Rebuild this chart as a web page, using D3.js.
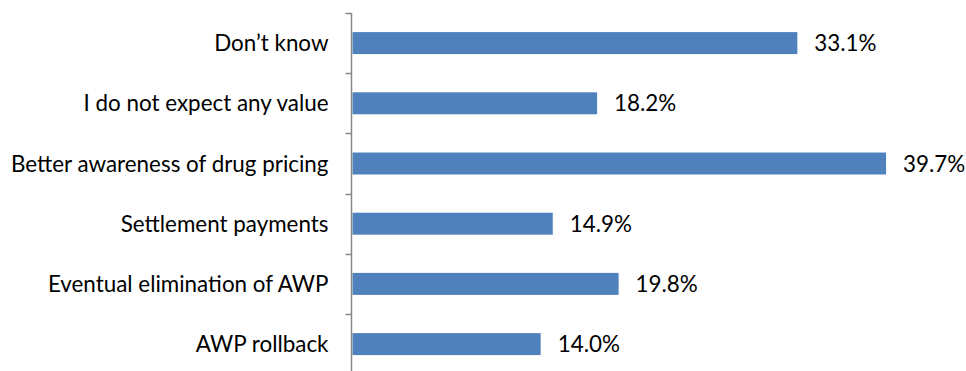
<!DOCTYPE html>
<html>
<head>
<meta charset="utf-8">
<script src="https://cdn.jsdelivr.net/npm/d3@7"></script>
<style>
  html, body { margin: 0; padding: 0; background: #fff; }
  svg text { font-family: Lato, "Open Sans", sans-serif; fill: #000; }
</style>
</head>
<body>
<svg id="chart" width="966" height="371"></svg>
<script>
// Survey responses, listed top to bottom
const categories = [
  "Don\u2019t know",
  "I do not expect any value",
  "Better awareness of drug pricing",
  "Settlement payments",
  "Eventual elimination of AWP",
  "AWP rollback"
];
const values = [33.1, 18.2, 39.7, 14.9, 19.8, 14.0];

const svg = d3.select("#chart");
const axisX = 351.5;
const plotTop = 13, bandH = 60.2;
const fontSize = 22.4;

const x = d3.scaleLinear().domain([0, 45]).range([axisX + 1, axisX + 1 + 45 * 13.44]);
const y = d3.scaleBand()
  .domain(categories)
  .range([plotTop, plotTop + bandH * categories.length])
  .paddingInner(0.635)
  .paddingOuter(0.3175);

// bars
svg.append("g").selectAll("rect")
  .data(categories)
  .join("rect")
  .attr("x", x(0))
  .attr("y", d => y(d))
  .attr("width", (d, i) => x(values[i]) - x(0))
  .attr("height", y.bandwidth())
  .attr("fill", "#4f81bd");

// value labels
svg.append("g").selectAll("text")
  .data(categories)
  .join("text")
  .attr("x", (d, i) => x(values[i]) + 17)
  .attr("y", d => y(d) + y.bandwidth() / 2)
  .attr("dy", "0.36em")
  .attr("font-size", fontSize)
  .text((d, i) => values[i].toFixed(1) + "%");

// category axis with tick marks at band boundaries
const ag = svg.append("g");
ag.append("line")
  .attr("x1", axisX).attr("x2", axisX)
  .attr("y1", plotTop).attr("y2", 371)
  .attr("stroke", "#868686").attr("stroke-width", 1.5);
d3.range(categories.length + 1).forEach(i => {
  const ty = Math.round(plotTop + i * bandH) + 0.5;
  ag.append("line")
    .attr("x1", axisX - 6).attr("x2", axisX)
    .attr("y1", ty).attr("y2", ty)
    .attr("stroke", "#868686").attr("stroke-width", 1.5);
});

ag.selectAll("text.cat")
  .data(categories)
  .join("text")
  .attr("class", "cat")
  .attr("x", axisX - 23)
  .attr("y", d => y(d) + y.bandwidth() / 2)
  .attr("dy", "0.36em")
  .attr("text-anchor", "end")
  .attr("font-size", fontSize)
  .text(d => d);
</script>
</body>
</html>
